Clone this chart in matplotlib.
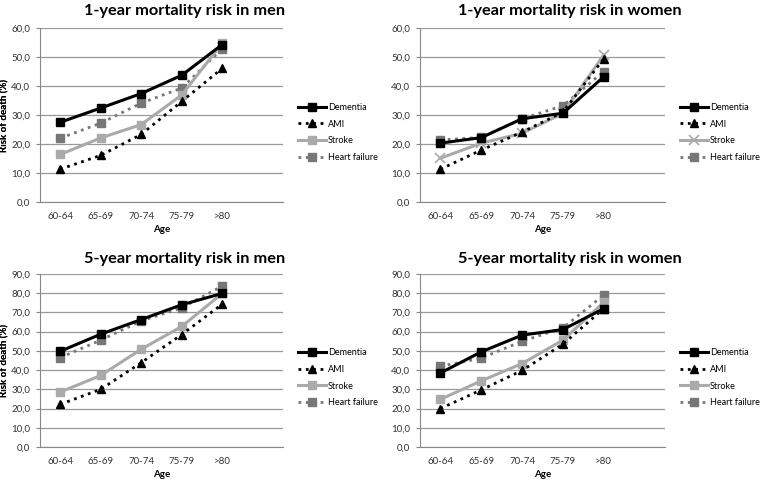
import matplotlib
matplotlib.use("Agg")
import matplotlib.pyplot as plt
from matplotlib.ticker import FuncFormatter

plt.rcParams['font.family'] = ['Lato', 'DejaVu Sans']

age_groups = ["60-64", "65-69", "70-74", "75-79", ">80"]
series_names = ["Dementia", "AMI", "Stroke", "Heart failure"]

men_1y_dementia = [27.5, 32.4, 37.4, 43.7, 54.3]
men_1y_ami = [11.3, 16.1, 23.3, 34.7, 46.1]
men_1y_stroke = [16.4, 22.1, 26.7, 36.9, 54.8]
men_1y_hf = [22.0, 27.2, 34.1, 39.3, 52.9]

women_1y_dementia = [20.3, 22.2, 28.7, 30.6, 43.2]
women_1y_ami = [11.3, 17.9, 24.1, 31.0, 49.4]
women_1y_stroke = [15.1, 20.3, 23.7, 30.6, 50.7]
women_1y_hf = [21.4, 22.3, 28.7, 33.2, 45.0]

men_5y_dementia = [49.8, 58.7, 66.3, 74.0, 79.9]
men_5y_ami = [22.2, 30.0, 43.9, 58.5, 74.3]
men_5y_stroke = [28.6, 37.2, 50.9, 62.7, 79.9]
men_5y_hf = [46.5, 55.6, 65.6, 72.4, 83.7]

women_5y_dementia = [38.5, 49.5, 58.2, 61.1, 72.0]
women_5y_ami = [20.0, 29.7, 39.8, 53.5, 72.0]
women_5y_stroke = [24.8, 34.4, 43.4, 55.6, 75.3]
women_5y_hf = [42.0, 46.2, 55.0, 62.0, 79.0]

panels = [
    ("1-year mortality risk in men", [men_1y_dementia, men_1y_ami, men_1y_stroke, men_1y_hf], 60, "s"),
    ("1-year mortality risk in women", [women_1y_dementia, women_1y_ami, women_1y_stroke, women_1y_hf], 60, "x"),
    ("5-year mortality risk in men", [men_5y_dementia, men_5y_ami, men_5y_stroke, men_5y_hf], 90, "s"),
    ("5-year mortality risk in women", [women_5y_dementia, women_5y_ami, women_5y_stroke, women_5y_hf], 90, "s"),
]

W, H = 761, 479
fig = plt.figure(figsize=(W / 100, H / 100), dpi=100)

# axes rects in pixels: left, top, right, bottom ; title centre x, title centre y
rects = [(40, 28, 283, 202, 185, 11), (420, 28, 665, 202, 570, 11),
         (40, 274, 283, 447, 185, 259), (420, 274, 665, 447, 570, 259)]

styles = [
    dict(color="black", linestyle="-", marker="s", lw=2.2, ms=6),
    dict(color="black", linestyle=":", marker="^", lw=2.0, ms=6),
    dict(color="#aaaaaa", linestyle="-", marker="s", lw=2.2, ms=6),
    dict(color="#777777", linestyle=":", marker="s", lw=2.0, ms=6),
]

fmt = FuncFormatter(lambda v, p: f"{v:.1f}".replace(".", ","))
x = list(range(len(age_groups)))

for (title, data, ymax, stroke_marker), (l, t, r, b, tx, ty) in zip(panels, rects):
    ax = fig.add_axes([l / W, 1 - b / H, (r - l) / W, (b - t) / H])
    for i, (name, vals) in enumerate(zip(series_names, data)):
        st = dict(styles[i])
        if i == 2:
            st["marker"] = stroke_marker
            if stroke_marker == "x":
                st["ms"] = 7
                st["mew"] = 1.2
        ax.plot(x, vals, label=name, color=st["color"], linestyle=st["linestyle"],
                marker=st["marker"], lw=st["lw"], ms=st["ms"], mew=st.get("mew", 1),
                zorder=3 + (3 - i))
    ax.set_xlim(-0.5, 5.5)
    ax.set_ylim(0, ymax)
    ax.set_yticks(range(0, ymax + 1, 10))
    ax.yaxis.set_major_formatter(fmt)
    ax.set_xticks(x)
    ax.set_xticklabels(age_groups)
    ax.tick_params(axis="x", length=0, labelsize=7, pad=7, colors="#333333")
    ax.tick_params(axis="y", length=3, labelsize=7, colors="#333333", width=0.8, pad=4)
    ax.tick_params(axis="y", color="#888888")
    ax.grid(axis="y", color="#999999", lw=0.9)
    ax.set_axisbelow(True)
    for s in ["top", "right"]:
        ax.spines[s].set_visible(False)
    ax.spines["left"].set_color("#888888")
    ax.spines["bottom"].set_color("#888888")
    ax.set_xlabel("Age", fontsize=7, fontweight="bold", labelpad=3)
    ax.set_ylabel("Risk of death (%)", fontsize=7, fontweight="bold")
    ax.yaxis.set_label_coords((9 - l) / (r - l), 0.5)
    fig.text(tx / W, 1 - ty / H, title, fontsize=11.8, fontweight="bold",
             ha="center", va="center")
    ax.legend(loc="center left", bbox_to_anchor=(1.045, 0.40), frameon=False,
              fontsize=6.5, handlelength=3.1, labelspacing=0.85, handletextpad=0.25,
              borderaxespad=0)

fig.savefig("out.png", dpi=100)
